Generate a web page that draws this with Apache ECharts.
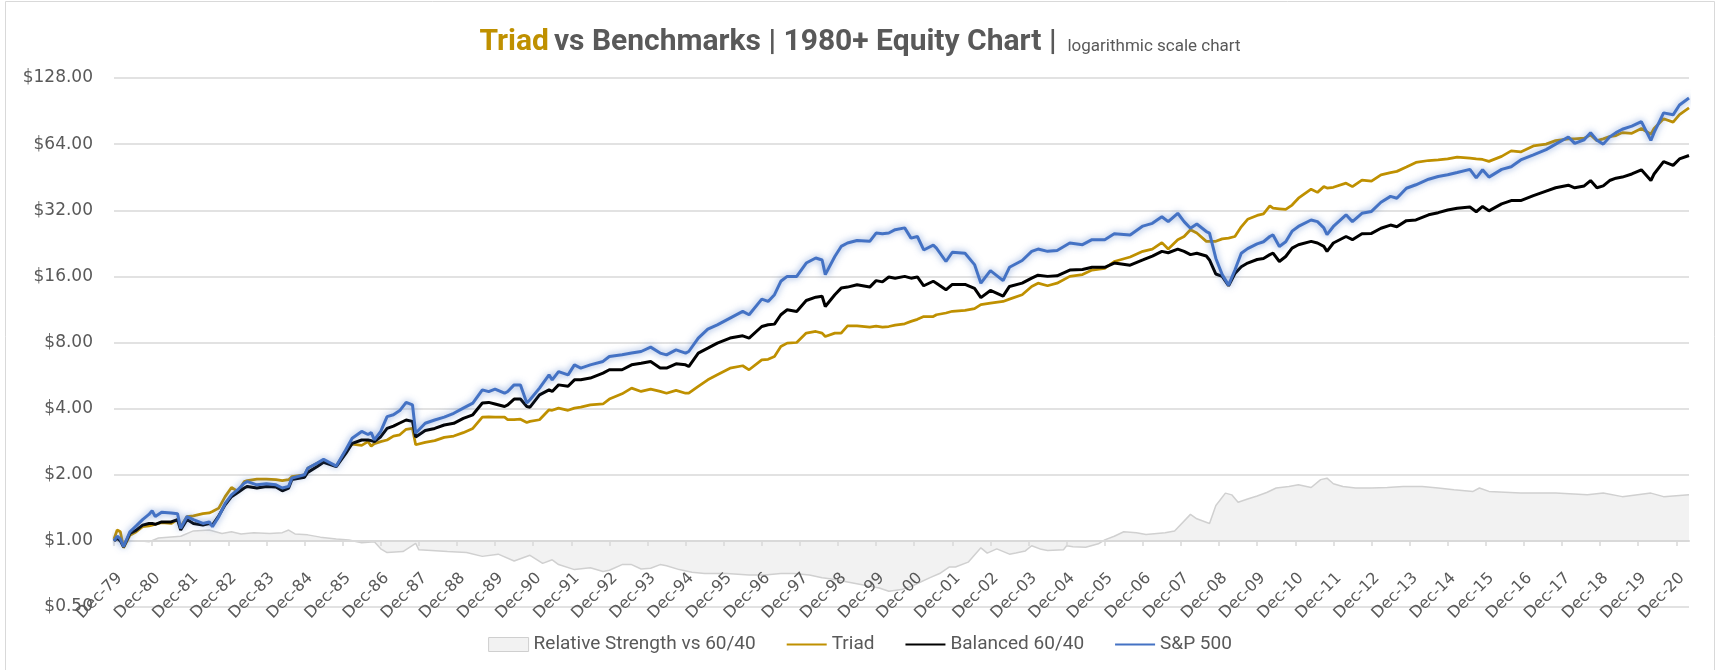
<!DOCTYPE html>
<html>
<head>
<meta charset="utf-8">
<title>Triad vs Benchmarks</title>
<script src="https://cdn.jsdelivr.net/npm/echarts@6/dist/echarts.min.js"></script>
<style>
html,body{margin:0;padding:0;background:#fff;}
#main{width:1720px;height:670px;}
</style>
</head>
<body>
<div id="main"></div>
<script>
// month index counted from Dec-79 (0) to Apr-21 (496)
var monthIdx = [0,1,2,3,5,7,9,11,12,13,15,18,20,21,23,25,28,30,31,33,35,37,39,41,42,45,48,51,53,55,56,60,61,64,66,70,73,75,78,80,81,82,84,86,88,90,92,94,95,98,101,104,107,110,113,116,118,
    120,123,124,126,128,130,131,134,137,138,140,143,145,147,150,154,156,160,163,166,169,172,174,177,180,181,184,187,190,194,198,200,204,206,208,210,212,215,218,221,223,224,227,229,231,234,238,
    240,242,244,246,249,251,253,255,258,259,262,264,268,271,273,276,280,282,286,289,291,294,297,301,305,308,312,315,320,324,327,330,332,335,337,339,341,344,345,347,349,351,353,355,357,
    360,362,364,365,367,369,371,373,377,379,381,382,384,388,390,393,396,399,402,404,407,410,414,417,420,423,427,429,431,433,437,440,443,447,451,454,458,460,463,465,467,469,471,473,475,478,481,484,485,488,491,493,496];
var triad = [1.02,1.12,1.10,0.93,1.06,1.10,1.16,1.17,1.18,1.19,1.21,1.20,1.25,1.16,1.29,1.30,1.33,1.34,1.36,1.41,1.59,1.75,1.68,1.86,1.88,1.91,1.91,1.90,1.88,1.90,1.96,2.00,2.14,2.26,2.31,2.19,2.58,2.76,2.72,2.83,2.70,2.77,2.83,2.88,3.00,3.04,3.22,3.25,2.74,2.81,2.86,2.96,3.00,3.11,3.25,3.66,3.67,
    3.66,3.66,3.56,3.56,3.58,3.46,3.50,3.56,3.95,3.93,4.02,3.93,4.02,4.06,4.16,4.20,4.42,4.67,4.96,4.79,4.91,4.79,4.70,4.84,4.70,4.70,5.05,5.41,5.70,6.11,6.27,6.01,6.67,6.71,6.91,7.67,7.95,8.00,8.83,8.98,8.83,8.52,8.83,8.83,9.53,9.53,9.40,
    9.50,9.40,9.46,9.60,9.73,9.98,10.2,10.5,10.5,10.7,10.9,11.1,11.2,11.4,11.9,12.1,12.3,12.6,13.2,14.4,14.9,14.5,14.9,16.0,16.3,17.1,17.4,18.7,19.6,20.8,21.3,22.8,21.3,23.5,24.3,26.1,25.2,23.1,23.1,23.1,23.7,23.9,24.3,26.9,29.1,
    30.3,30.8,33.5,32.7,32.5,32.3,33.8,36.3,39.9,38.6,41.0,40.4,40.7,42.5,41.0,43.9,43.4,46.4,47.5,48.1,50.3,52.8,53.9,54.3,54.8,55.9,55.3,54.8,54.5,53.4,56.3,59.6,59.0,62.8,64.0,66.4,67.6,67.6,68.1,70.5,66.4,67.6,69.3,70.0,72.2,71.7,75.4,71.0,75.4,83.5,80.6,87.2,93.5];
var balanced = [1.00,1.03,1.00,0.94,1.08,1.12,1.18,1.20,1.20,1.19,1.22,1.22,1.25,1.12,1.25,1.20,1.18,1.20,1.18,1.30,1.46,1.59,1.66,1.74,1.77,1.74,1.77,1.76,1.69,1.74,1.90,1.95,2.05,2.18,2.28,2.18,2.50,2.78,2.88,2.88,2.86,2.83,2.98,3.25,3.33,3.44,3.55,3.50,2.97,3.18,3.25,3.37,3.43,3.61,3.75,4.24,4.27,
    4.20,4.09,4.16,4.42,4.42,4.09,4.06,4.62,4.87,4.79,5.13,5.06,5.41,5.41,5.51,5.80,6.01,6.01,6.33,6.44,6.56,6.12,6.12,6.40,6.33,6.22,7.16,7.54,7.95,8.38,8.58,8.38,9.46,9.63,9.70,10.7,11.27,11.08,12.43,12.87,13.0,11.67,13.2,14.15,14.3,14.65,14.3,
    15.3,15.1,15.9,15.7,16.0,15.7,15.9,14.5,15.2,14.9,13.9,14.7,14.7,14.1,12.8,13.8,13.0,14.4,14.9,15.7,16.2,16.0,16.1,17.1,17.2,17.6,17.6,18.4,18.0,19.0,19.8,20.8,20.5,21.3,20.8,20.1,20.4,19.8,19.0,16.4,16.0,14.5,16.5,17.7,18.4,
    19.1,19.3,20.1,20.4,18.7,19.7,21.5,22.3,23.1,22.7,21.9,20.8,22.7,24.3,23.5,25.0,25.1,26.5,27.4,26.9,28.7,28.9,30.5,31.2,32.1,32.7,33.1,31.5,33.3,31.8,34.2,35.4,35.4,37.3,39.1,40.5,41.6,40.5,41.3,43.7,40.5,41.3,43.7,44.8,45.3,46.8,48.9,43.7,46.8,53.3,51.2,54.8,56.8];
var sp500 = [1.00,1.05,1.02,0.94,1.10,1.17,1.25,1.32,1.37,1.29,1.35,1.34,1.33,1.14,1.29,1.25,1.20,1.22,1.16,1.29,1.48,1.62,1.71,1.83,1.86,1.80,1.82,1.80,1.74,1.77,1.93,2.00,2.14,2.26,2.35,2.19,2.60,2.93,3.15,3.05,3.11,2.88,3.15,3.68,3.75,3.92,4.27,4.16,3.09,3.43,3.55,3.66,3.81,4.02,4.24,4.87,4.78,
    4.91,4.70,4.79,5.13,5.13,4.24,4.39,4.96,5.70,5.41,5.90,5.70,6.33,6.12,6.33,6.56,6.91,7.03,7.16,7.28,7.62,7.16,7.03,7.41,7.16,7.28,8.38,9.20,9.63,10.33,11.08,10.70,12.6,12.3,13.2,15.2,16.0,16.0,18.4,19.4,19.0,16.3,19.7,21.9,22.7,23.3,23.1,
    25.2,25.0,25.2,26.1,26.6,23.9,24.3,21.1,22.2,21.5,18.7,20.6,20.4,18.1,14.9,17.0,15.3,17.6,18.9,20.8,21.3,20.8,21.0,22.7,22.3,23.5,23.5,25.0,24.7,27.1,27.9,29.9,28.4,31.0,28.4,26.5,27.7,25.6,25.2,19.3,16.3,14.6,17.1,20.4,21.4,
    22.5,23.0,24.3,24.7,21.9,23.0,25.7,27.0,28.9,28.4,26.6,24.8,27.0,30.5,28.4,31.0,31.6,34.8,37.0,36.3,40.3,41.8,44.3,45.6,46.4,47.5,49.1,44.9,48.9,45.3,49.1,50.5,54.2,57.2,60.4,64.0,69.0,64.5,67.0,72.2,66.6,64.0,69.0,72.2,74.8,77.3,81.0,66.6,72.2,88.8,87.0,96.4,103.8];

var rsIdx = [0,3,8,11,14,21,25,30,34,37,40,44,49,53,55,57,61,65,70,74,78,82,84,86,91,95,96,100,105,111,116,121,126,131,135,138,140,145,150,154,156,160,163,166,169,172,174,178,182,186,193,
    200,205,210,214,219,223,226,231,236,241,244,248,251,253,257,260,263,265,269,273,275,278,282,284,287,289,292,294,299,300,302,306,310,312,315,318,322,325,331,334,339,341,345,347,350,352,354,357,
    360,363,366,370,373,377,380,382,384,387,391,396,401,406,412,417,422,428,430,433,443,454,464,469,475,484,488,496];
var relStrength = [1.00,0.99,1.00,0.99,1.03,1.05,1.11,1.12,1.08,1.10,1.075,1.09,1.08,1.09,1.12,1.075,1.065,1.04,1.02,1.01,0.98,0.99,0.92,0.885,0.894,0.975,0.91,0.904,0.894,0.885,0.85,0.87,0.81,0.86,0.79,0.82,0.78,0.74,0.755,0.725,0.735,0.78,0.78,0.745,0.75,0.78,0.77,0.74,0.72,0.71,0.71,
    0.70,0.70,0.71,0.71,0.70,0.68,0.67,0.65,0.63,0.61,0.59,0.60,0.62,0.64,0.68,0.71,0.76,0.76,0.80,0.93,0.88,0.92,0.87,0.88,0.90,0.95,0.915,0.905,0.91,0.95,0.94,0.935,0.97,1.01,1.05,1.10,1.09,1.07,1.09,1.11,1.32,1.26,1.20,1.45,1.65,1.62,1.50,1.55,
    1.60,1.66,1.74,1.77,1.80,1.75,1.90,1.93,1.82,1.77,1.74,1.74,1.75,1.77,1.77,1.74,1.71,1.68,1.74,1.68,1.65,1.65,1.62,1.65,1.59,1.65,1.59,1.62];

var monthNames = ['Jan','Feb','Mar','Apr','May','Jun','Jul','Aug','Sep','Oct','Nov','Dec'];
var lastIdx = 496;
var categories = [];
for (var i = 0; i <= lastIdx; i++) {
    var mm = (11 + i) % 12;
    var yy = 1979 + Math.floor((11 + i) / 12);
    categories.push(monthNames[mm] + '-' + String(yy).slice(2));
}

function pairs(idx, vals) {
    var out = [];
    for (var i = 0; i < idx.length; i++) {
        out.push([idx[i], vals[i]]);
    }
    return out;
}

var GRAY_TXT = '#595959';
var GRID_CLR = '#d9d9d9';

var chart = echarts.init(document.getElementById('main'));
var option = {
    animation: false,
    backgroundColor: '#fff',
    graphic: [{
        type: 'rect',
        silent: true,
        shape: {x: 5.5, y: 1.5, width: 1709, height: 700},
        style: {fill: 'none', stroke: GRID_CLR, lineWidth: 1}
    }],
    title: {
        left: 'center',
        top: 22,
        text: '{a|Triad} {b|vs Benchmarks | 1980+ Equity Chart |} {c|logarithmic scale chart}',
        textStyle: {
            rich: {
                a: {fontFamily: 'Roboto', fontWeight: 'bold', fontSize: 30, color: '#BF9000', verticalAlign: 'bottom'},
                b: {fontFamily: 'Roboto', fontWeight: 'bold', fontSize: 30, color: GRAY_TXT, verticalAlign: 'bottom'},
                c: {fontFamily: 'Roboto', fontWeight: 'normal', fontSize: 17, color: GRAY_TXT, verticalAlign: 'bottom',
                    padding: [0, 0, 2, 6]}
            }
        }
    },
    legend: {
        bottom: 11,
        left: 'center',
        itemWidth: 40,
        itemHeight: 14,
        itemGap: 30,
        textStyle: {color: GRAY_TXT, fontFamily: 'Roboto', fontSize: 19},
        data: [
            {name: 'Relative Strength vs 60/40', icon: 'rect',
                itemStyle: {color: '#f2f2f2', borderColor: '#cfcfcf', borderWidth: 1}},
            {name: 'Triad', itemStyle: {opacity: 0}},
            {name: 'Balanced 60/40', itemStyle: {opacity: 0}},
            {name: 'S&P 500', itemStyle: {opacity: 0}}
        ]
    },
    grid: {left: 114, right: 31, top: 78, bottom: 63},
    xAxis: {
        type: 'category',
        data: categories,
        boundaryGap: false,
        offset: -66,   // axis crosses at $1.00
        z: 2,
        axisLine: {onZero: false, lineStyle: {color: GRID_CLR, width: 2}},
        axisTick: {interval: 11, length: 5, lineStyle: {color: GRID_CLR, width: 1.5}},
        axisLabel: {
            interval: 11, rotate: 45, align: 'right', verticalAlign: 'top', margin: 29,
            color: GRAY_TXT, fontFamily: 'DejaVu Sans', fontSize: 16
        },
        splitLine: {show: false}
    },
    yAxis: {
        type: 'log',
        logBase: 2,
        min: 0.5,
        max: 128,
        splitNumber: 8,
        axisLine: {show: false},
        axisTick: {show: false},
        axisLabel: {
            margin: 21, color: GRAY_TXT, fontFamily: 'DejaVu Sans', fontSize: 17,
            formatter: function (v) { return '$' + v.toFixed(2); }
        },
        splitLine: {lineStyle: {color: GRID_CLR, width: 1.5}}
    },
    series: [{
        name: 'Relative Strength vs 60/40',
        type: 'line',
        data: pairs(rsIdx, relStrength),
        symbol: 'none',
        z: 1,
        itemStyle: {color: '#f2f2f2'},
        lineStyle: {color: '#d0d0d0', width: 1.5},
        areaStyle: {color: '#f2f2f2', opacity: 1, origin: 1}
    }, {
        name: 'Triad',
        type: 'line',
        data: pairs(monthIdx, triad),
        symbol: 'none',
        z: 3,
        itemStyle: {color: '#BF9000'},
        lineStyle: {color: '#BF9000', width: 2.75}
    }, {
        name: 'Balanced 60/40',
        type: 'line',
        data: pairs(monthIdx, balanced),
        symbol: 'none',
        z: 3,
        itemStyle: {color: '#000000'},
        lineStyle: {color: '#000000', width: 3}
    }, {
        name: 'S&P 500',
        type: 'line',
        data: pairs(monthIdx, sp500),
        symbol: 'none',
        z: 3,
        itemStyle: {color: '#4472C4'},
        lineStyle: {color: '#4472C4', width: 3, shadowColor: 'rgba(68,114,196,0.7)', shadowBlur: 7}
    }]
};
chart.setOption(option);
</script>
</body>
</html>
